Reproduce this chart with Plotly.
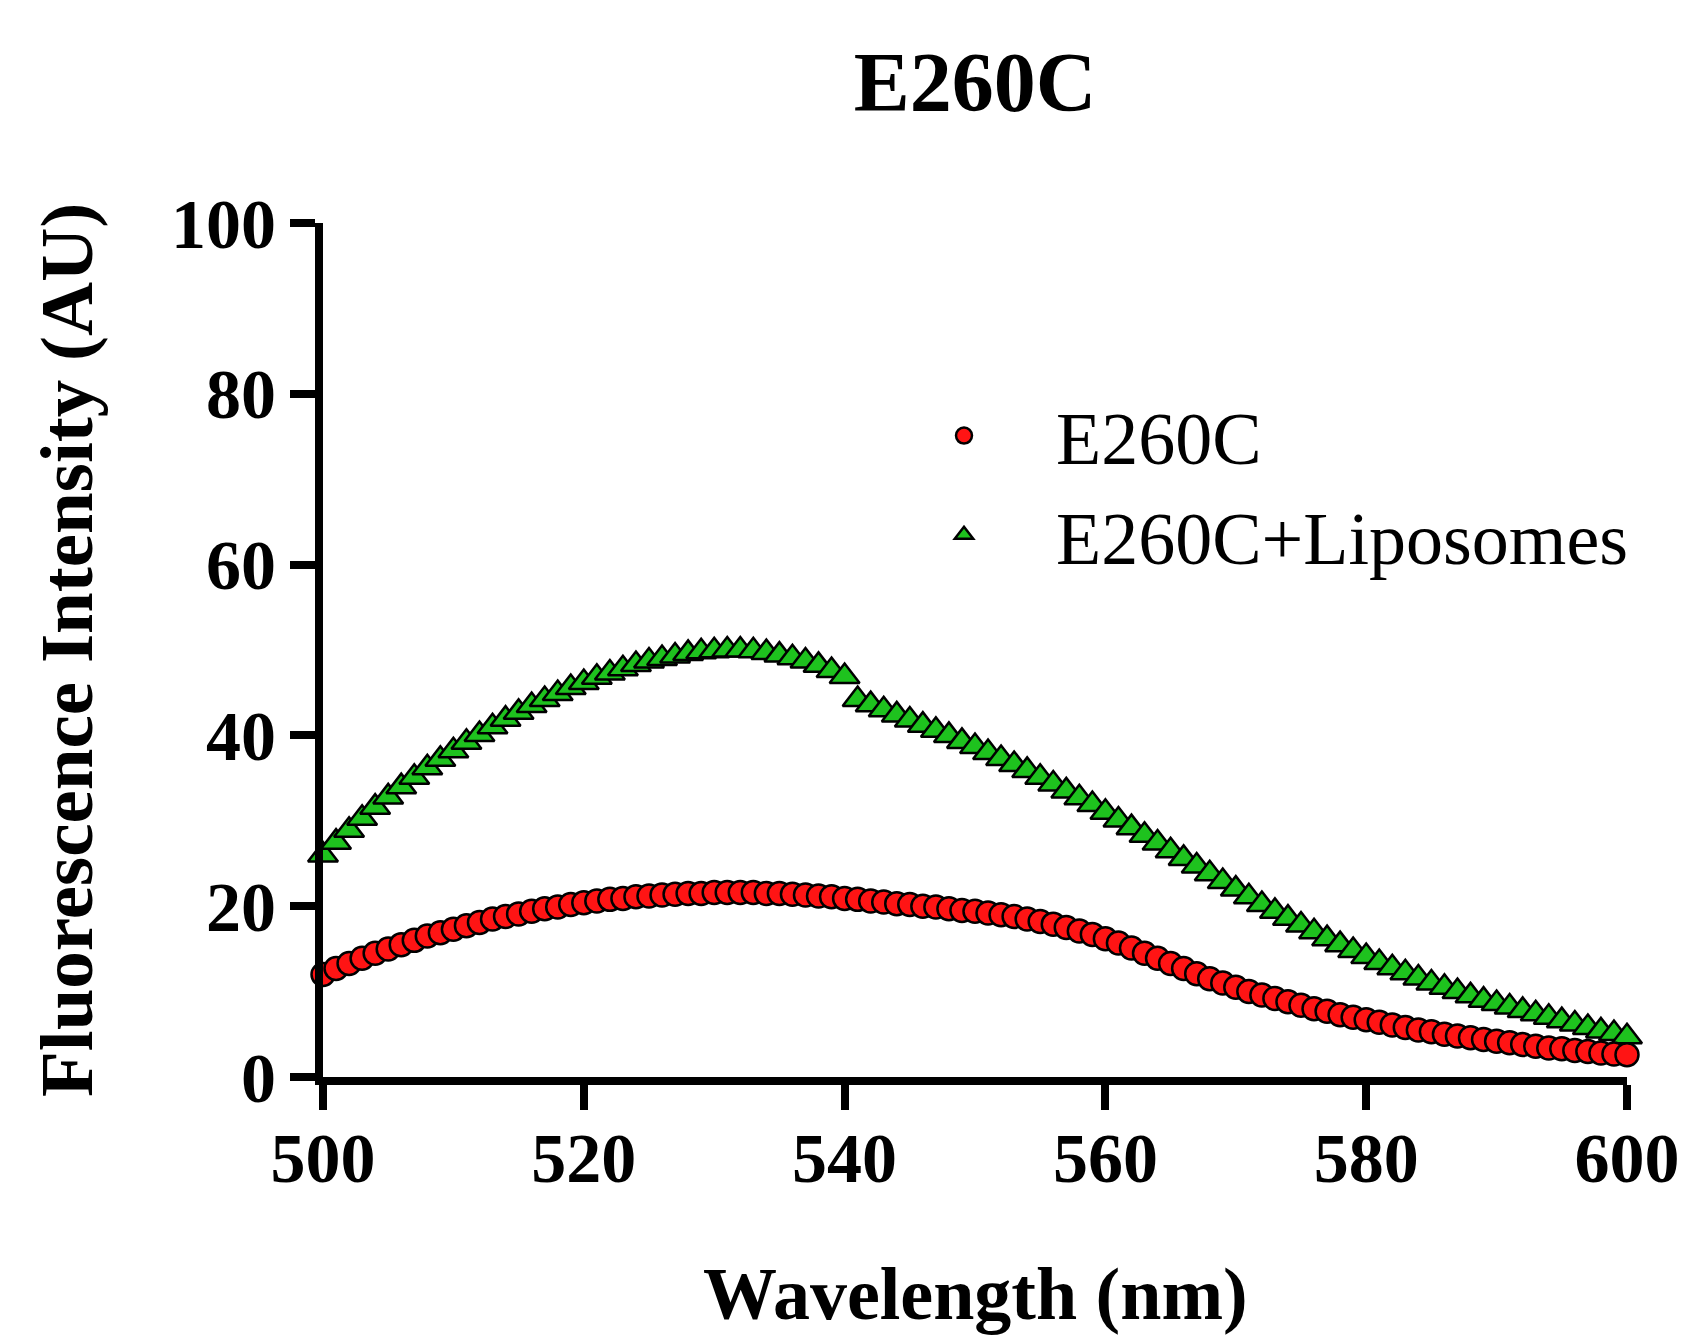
import plotly.graph_objects as go

# ---- data ----
wavelength = list(range(500, 601))

e260c = [
    12.0, 12.7, 13.3, 13.9, 14.5, 15.0, 15.5, 16.0, 16.5, 16.9,
    17.3, 17.7, 18.1, 18.5, 18.8, 19.1, 19.4, 19.7, 19.9, 20.2,
    20.4, 20.6, 20.8, 20.9, 21.1, 21.2, 21.3, 21.4, 21.5, 21.5,
    21.6, 21.6, 21.6, 21.6, 21.5, 21.5, 21.4, 21.3, 21.2, 21.1,
    20.9, 20.8, 20.6, 20.5, 20.3, 20.2, 20.0, 19.9, 19.7, 19.5,
    19.4, 19.2, 19.0, 18.8, 18.5, 18.2, 17.9, 17.5, 17.1, 16.7,
    16.2, 15.7, 15.1, 14.5, 13.9, 13.3, 12.7, 12.1, 11.5, 11.0,
    10.5, 10.0, 9.6, 9.2, 8.8, 8.4, 8.0, 7.7, 7.3, 7.0,
    6.7, 6.4, 6.1, 5.8, 5.5, 5.3, 5.0, 4.8, 4.6, 4.4,
    4.2, 4.0, 3.8, 3.6, 3.4, 3.3, 3.1, 3.0, 2.8, 2.7,
    2.6,
]

e260c_lipo = [
    26.0, 27.5, 28.9, 30.3, 31.6, 32.8, 34.0, 35.1, 36.2, 37.2,
    38.2, 39.2, 40.1, 41.0, 41.9, 42.7, 43.5, 44.2, 44.9, 45.6,
    46.2, 46.8, 47.3, 47.8, 48.3, 48.7, 49.0, 49.3, 49.6, 49.8,
    49.9, 50.0, 50.0, 49.9, 49.7, 49.4, 49.1, 48.7, 48.2, 47.6,
    46.9, 44.2, 43.6, 43.0, 42.4, 41.8, 41.2, 40.6, 40.0, 39.3,
    38.7, 38.0, 37.3, 36.6, 35.9, 35.1, 34.3, 33.5, 32.7, 31.9,
    31.0, 30.1, 29.2, 28.3, 27.4, 26.5, 25.6, 24.7, 23.8, 22.9,
    22.0, 21.1, 20.2, 19.4, 18.6, 17.8, 17.0, 16.2, 15.5, 14.8,
    14.1, 13.4, 12.8, 12.2, 11.6, 11.0, 10.5, 10.0, 9.5, 9.0,
    8.6, 8.2, 7.8, 7.4, 7.0, 6.6, 6.2, 5.8, 5.4, 5.1,
    4.7,
]

x_ticks = [500, 520, 540, 560, 580, 600]
y_ticks = [0, 20, 40, 60, 80, 100]

title_text = "E260C"
x_title = "Wavelength (nm)"
y_title = "Fluorescence Intensity (AU)"
series_names = ["E260C", "E260C+Liposomes"]

SERIF = "Liberation Serif, Times New Roman, serif"

# plot-area geometry (pixels)
W, H = 1690, 1344
L, R, T, B = 323, 63, 223, 267

fig = go.Figure()

fig.add_trace(go.Scatter(
    x=wavelength, y=e260c_lipo, mode="markers", name=series_names[1],
    legendrank=2, cliponaxis=False,
    marker=dict(symbol="triangle-up", size=26, color="#1ec21e",
                line=dict(color="black", width=2.5)),
))
fig.add_trace(go.Scatter(
    x=wavelength, y=e260c, mode="markers", name=series_names[0],
    legendrank=1, cliponaxis=False,
    marker=dict(symbol="circle", size=23, color="#ff1414",
                line=dict(color="black", width=2.5)),
))

item_w = 174
fig.update_layout(
    width=W, height=H,
    margin=dict(l=L, r=R, t=T, b=B, autoexpand=False),
    paper_bgcolor="white", plot_bgcolor="white",
    font=dict(family=SERIF, color="black"),
    title=dict(text=title_text, x=0.5, xanchor="center", xref="paper",
               y=1 - 82 / H, yanchor="middle",
               font=dict(family=SERIF, size=84, weight="bold", color="black")),
    showlegend=True,
    legend=dict(
        x=(959 - item_w / 2 - L) / (W - L - R), xanchor="left",
        y=(H - B - 381) / (H - T - B), yanchor="top",
        font=dict(family=SERIF, size=74, color="black"),
        bgcolor="rgba(0,0,0,0)", borderwidth=0,
        itemwidth=item_w, tracegroupgap=0,
    ),
    xaxis=dict(
        range=[500, 600], tickvals=x_ticks, ticktext=[str(v) for v in x_ticks],
        showline=True, linecolor="black", linewidth=8,
        ticks="outside", ticklen=25, tickwidth=8, tickcolor="black",
        showgrid=False, zeroline=False, automargin=False,
        ticklabelstandoff=-12,
        tickfont=dict(family=SERIF, size=70, weight="bold", color="black"),
    ),
    yaxis=dict(
        range=[0, 100], tickvals=y_ticks, ticktext=[str(v) for v in y_ticks],
        showline=True, linecolor="black", linewidth=8,
        ticks="outside", ticklen=25, tickwidth=8, tickcolor="black",
        showgrid=False, zeroline=False, automargin=False,
        tickfont=dict(family=SERIF, size=70, weight="bold", color="black"),
    ),
    annotations=[
        dict(text=x_title, xref="paper", yref="paper", x=0.5,
             y=-(1294 - (H - B)) / (H - T - B), xanchor="center", yanchor="middle",
             showarrow=False,
             font=dict(family=SERIF, size=74, weight="bold", color="black")),
        dict(text=y_title, xref="paper", yref="paper",
             x=-(L - 66) / (W - L - R), y=0.5, xanchor="center", yanchor="middle",
             textangle=-90, showarrow=False,
             font=dict(family=SERIF, size=75, weight="bold", color="black")),
    ],
)

fig.write_html("out.html")
